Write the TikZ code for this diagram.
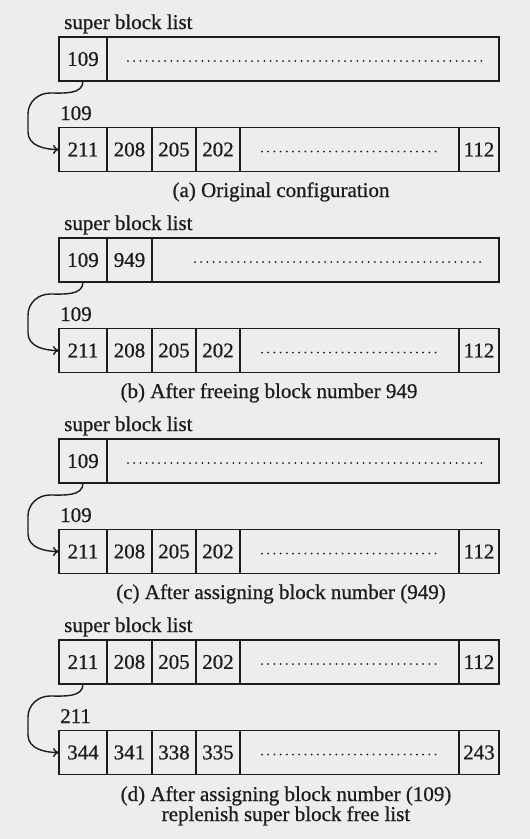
\documentclass[tikz,border=0pt]{standalone}
\usepackage{fontspec}
\setmainfont{Liberation Serif}[FakeBold=0.7]
\usetikzlibrary{arrows.meta}
\definecolor{paper}{RGB}{237,237,237}
\definecolor{ink}{RGB}{28,28,28}
\begin{document}
\begin{tikzpicture}[x=1pt,y=-1pt,
  every node/.style={text=ink},
  txt/.style={font=\fontsize{21}{24}\selectfont},
  cell/.style={txt, draw=ink, line width=1.4pt, minimum height=44pt, inner sep=0pt, outer sep=0pt},
  lbl/.style={txt, anchor=base west, inner sep=0pt},
  captext/.style={txt, anchor=base, inner sep=0pt},
  dotrow/.style={draw=ink, line width=2pt, line cap=round, dash pattern=on 0pt off 6.2pt},
  link/.style={draw=ink, line width=1.4pt, -{To[length=6pt,width=9pt]}}]
\fill[paper] (0,0) rectangle (530,839);
\useasboundingbox (0,0) rectangle (530,839);

% ---------- (a)
\begin{scope}
\node[lbl] (a-title) at (64,29) {super block list};
\node[cell, minimum width=48pt] (a-t1) at (83,59) {109};
\node[cell, minimum width=392pt] (a-tr) at (303,59) {};
\draw[dotrow] (128,61) -- (482,61);
\node[lbl] (a-lab) at (60,120) {109};
\node[cell, minimum width=48pt] (a-b1) at (83,149.5) {211};
\node[cell, minimum width=45pt] (a-b2) at (129.5,149.5) {208};
\node[cell, minimum width=44pt] (a-b3) at (174,149.5) {205};
\node[cell, minimum width=44pt] (a-b4) at (218,149.5) {202};
\node[cell, minimum width=219pt] (a-bd) at (349.5,149.5) {};
\node[cell, minimum width=40pt] (a-b6) at (479,149.5) {112};
\draw[dotrow] (262,151.5) -- (438,151.5);
\draw[link] (a-t1.south) to[out=-90,in=0] (50,93) to[out=180,in=90] (28,114) -- (28,132) to[out=-90,in=180] (a-b1.west);
\node[captext] (a-cap) at (281,197) {(a) Original configuration};
\end{scope}

% ---------- (b)
\begin{scope}[yshift=-201pt]
\node[lbl] (b-title) at (64,29) {super block list};
\node[cell, minimum width=48pt] (b-t1) at (83,59) {109};
\node[cell, minimum width=45pt] (b-t2) at (129.5,59) {949};
\node[cell, minimum width=347pt] (b-tr) at (325.5,59) {};
\draw[dotrow] (195,61) -- (482,61);
\node[lbl] (b-lab) at (60,120) {109};
\node[cell, minimum width=48pt] (b-b1) at (83,149.5) {211};
\node[cell, minimum width=45pt] (b-b2) at (129.5,149.5) {208};
\node[cell, minimum width=44pt] (b-b3) at (174,149.5) {205};
\node[cell, minimum width=44pt] (b-b4) at (218,149.5) {202};
\node[cell, minimum width=219pt] (b-bd) at (349.5,149.5) {};
\node[cell, minimum width=40pt] (b-b6) at (479,149.5) {112};
\draw[dotrow] (262,151.5) -- (438,151.5);
\draw[link] (b-t1.south) to[out=-90,in=0] (50,93) to[out=180,in=90] (28,114) -- (28,132) to[out=-90,in=180] (b-b1.west);
\node[captext] (b-cap) at (269,197) {(b) After freeing block number 949};
\end{scope}

% ---------- (c)
\begin{scope}[yshift=-402pt]
\node[lbl] (c-title) at (64,29) {super block list};
\node[cell, minimum width=48pt] (c-t1) at (83,59) {109};
\node[cell, minimum width=392pt] (c-tr) at (303,59) {};
\draw[dotrow] (128,61) -- (482,61);
\node[lbl] (c-lab) at (60,120) {109};
\node[cell, minimum width=48pt] (c-b1) at (83,149.5) {211};
\node[cell, minimum width=45pt] (c-b2) at (129.5,149.5) {208};
\node[cell, minimum width=44pt] (c-b3) at (174,149.5) {205};
\node[cell, minimum width=44pt] (c-b4) at (218,149.5) {202};
\node[cell, minimum width=219pt] (c-bd) at (349.5,149.5) {};
\node[cell, minimum width=40pt] (c-b6) at (479,149.5) {112};
\draw[dotrow] (262,151.5) -- (438,151.5);
\draw[link] (c-t1.south) to[out=-90,in=0] (50,93) to[out=180,in=90] (28,114) -- (28,132) to[out=-90,in=180] (c-b1.west);
\node[captext] (c-cap) at (281,197) {(c) After assigning block number (949)};
\end{scope}

% ---------- (d)
\begin{scope}[yshift=-603pt]
\node[lbl] (d-title) at (64,29) {super block list};
\node[cell, minimum width=48pt] (d-t1) at (83,59) {211};
\node[cell, minimum width=45pt] (d-t2) at (129.5,59) {208};
\node[cell, minimum width=44pt] (d-t3) at (174,59) {205};
\node[cell, minimum width=44pt] (d-t4) at (218,59) {202};
\node[cell, minimum width=219pt] (d-td) at (349.5,59) {};
\node[cell, minimum width=40pt] (d-t6) at (479,59) {112};
\draw[dotrow] (262,61) -- (438,61);
\node[lbl] (d-lab) at (60,120) {211};
\node[cell, minimum width=48pt] (d-b1) at (83,149.5) {344};
\node[cell, minimum width=45pt] (d-b2) at (129.5,149.5) {341};
\node[cell, minimum width=44pt] (d-b3) at (174,149.5) {338};
\node[cell, minimum width=44pt] (d-b4) at (218,149.5) {335};
\node[cell, minimum width=219pt] (d-bd) at (349.5,149.5) {};
\node[cell, minimum width=40pt] (d-b6) at (479,149.5) {243};
\draw[dotrow] (262,151.5) -- (438,151.5);
\draw[link] (d-t1.south) to[out=-90,in=0] (50,93) to[out=180,in=90] (28,114) -- (28,132) to[out=-90,in=180] (d-b1.west);
\node[captext] (d-cap1) at (286,198) {(d) After assigning block number (109)};
\node[captext] (d-cap2) at (286,218) {replenish super block free list};
\end{scope}
\end{tikzpicture}
\end{document}
